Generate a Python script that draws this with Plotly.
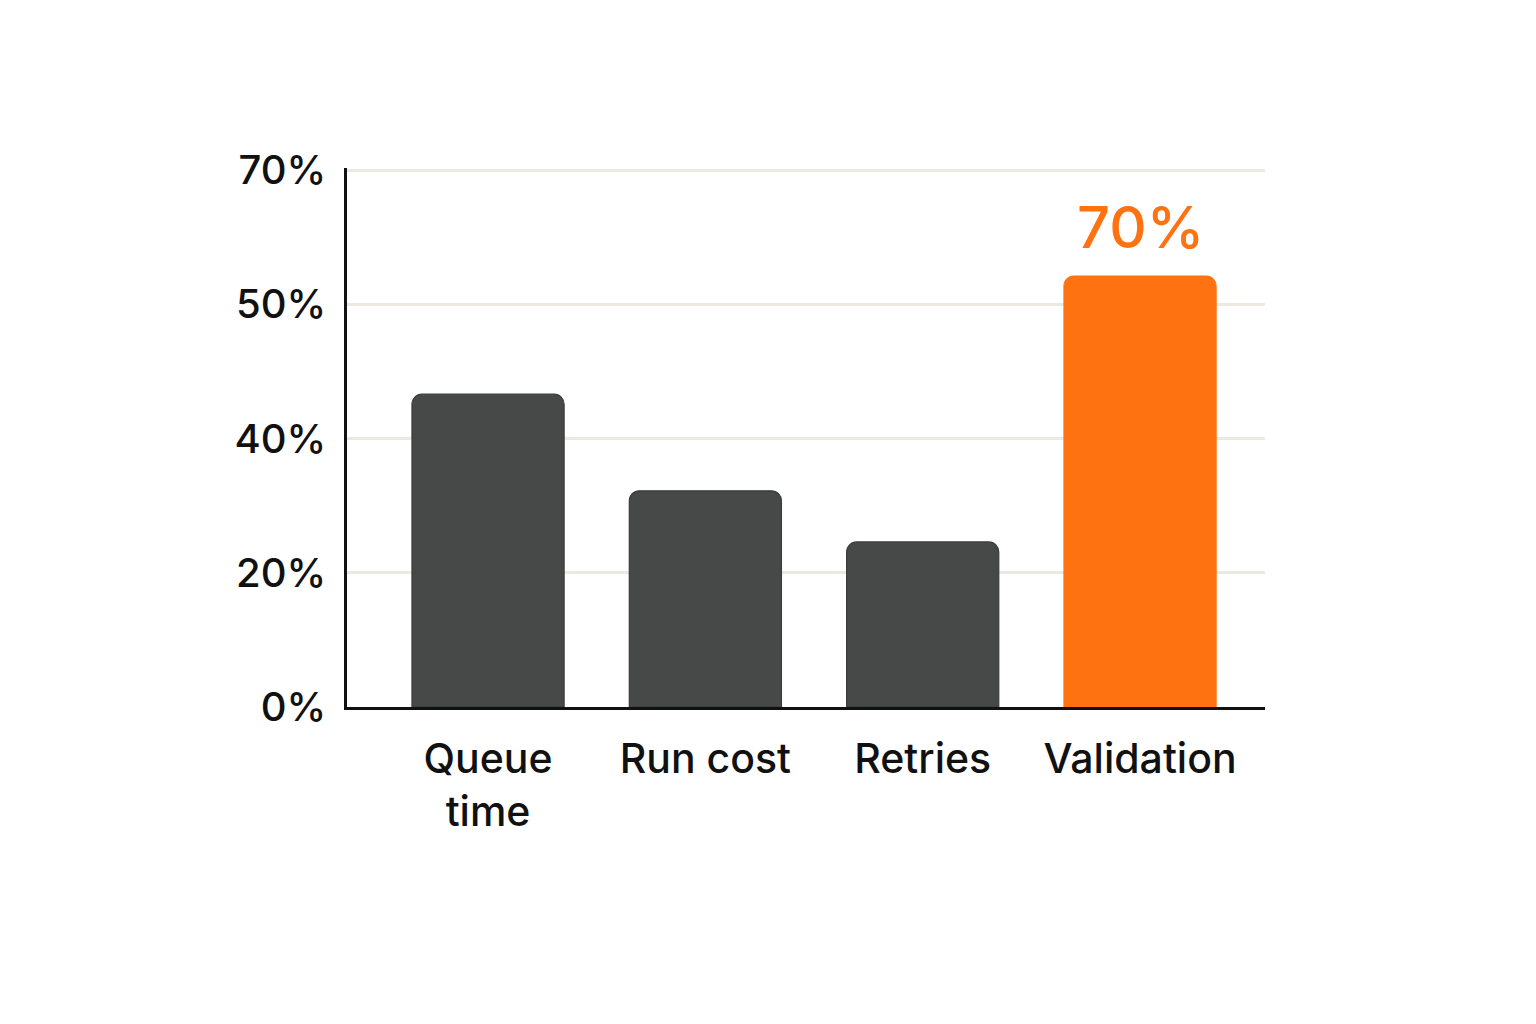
import plotly.graph_objects as go

categories = ["Queue<br>time", "Run cost", "Retries", "Validation"]
values = [46.6, 32.2, 24.6, 64.2]
highlight_label = "70%"
bar_colors = ["#474848", "#474848", "#474848", "#FF7212"]
line_colors = ["#3A3B3B", "#3A3B3B", "#3A3B3B", "#FF7212"]
tick_vals = [0, 20, 40, 60, 80]
tick_text = ["0%", "20%", "40%", "50%", "70%"]

FONT = "Inter, Roboto, 'Open Sans', sans-serif"

fig = go.Figure(
    go.Bar(
        x=categories,
        y=values,
        width=0.70,
        marker=dict(color=bar_colors, line=dict(color=line_colors, width=1.2)),
        cliponaxis=False,
    )
)

fig.add_annotation(
    x=categories[3],
    y=values[3],
    text=highlight_label,
    showarrow=False,
    yanchor="bottom",
    yshift=12,
    font=dict(family=FONT, size=58, color="#FF7212", weight=500),
)

fig.update_layout(
    width=1536,
    height=1024,
    paper_bgcolor="white",
    plot_bgcolor="white",
    margin=dict(l=347, r=271, t=168, b=317),
    barcornerradius=10,
    showlegend=False,
    font=dict(family=FONT, color="#111111"),
)

fig.update_xaxes(
    type="category",
    range=[-0.649, 3.575],
    showgrid=False,
    showline=True,
    linecolor="#111111",
    linewidth=2.5,
    ticks="",
    ticklabelstandoff=14,
    tickfont=dict(family=FONT, size=41, color="#111111", weight=500),
)

fig.update_yaxes(
    range=[0, 80.3],
    tickvals=tick_vals,
    ticktext=tick_text,
    showgrid=True,
    gridcolor="#ECE9E1",
    gridwidth=3,
    zeroline=False,
    showline=True,
    linecolor="#111111",
    linewidth=2.5,
    ticks="",
    ticklabelstandoff=10,
    tickfont=dict(family=FONT, size=40, color="#111111", weight=500),
)

fig.write_html("out.html")
